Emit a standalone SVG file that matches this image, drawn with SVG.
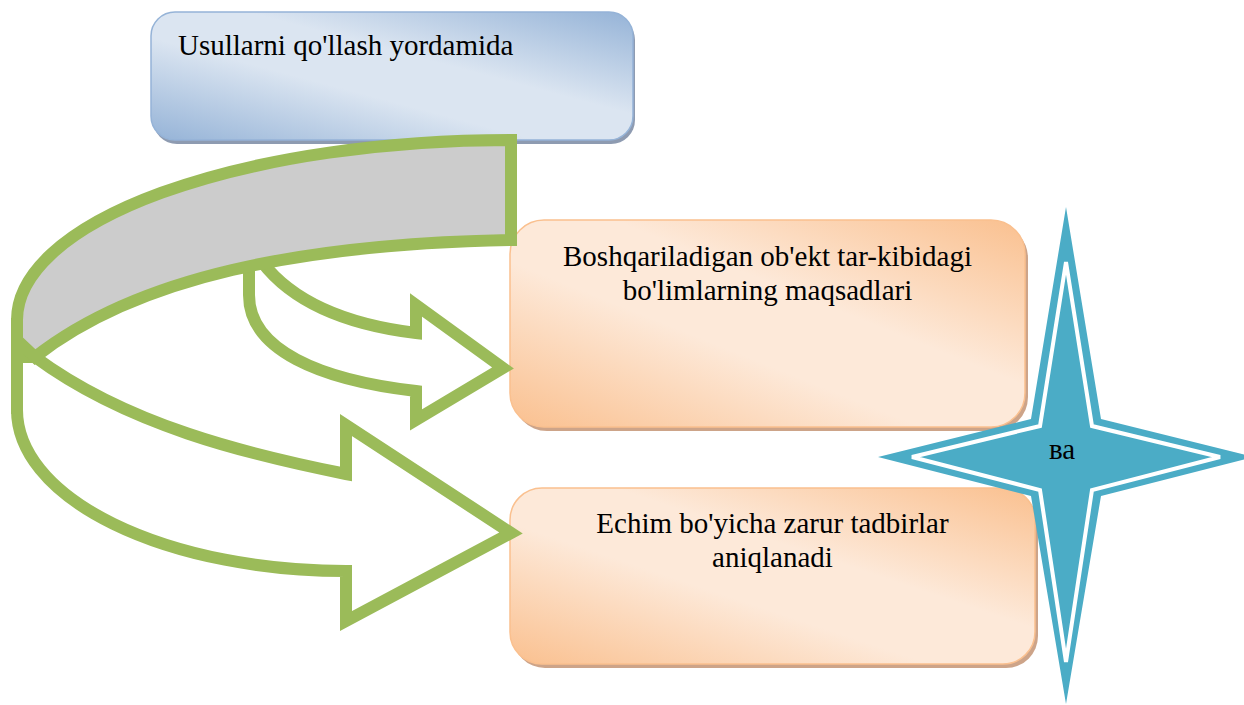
<svg xmlns="http://www.w3.org/2000/svg" width="1244" height="705" viewBox="0 0 1244 705">
<style>
.t{font-family:"Liberation Serif","Times New Roman",serif;font-size:29px;fill:#000}
.g{stroke:#9bbb59;stroke-width:12;stroke-linejoin:miter;stroke-miterlimit:6}
</style>
<defs>
<linearGradient id="blue" x1="1" y1="0" x2="0" y2="1">
<stop offset="0" stop-color="#95b3d7"/><stop offset="0.4" stop-color="#dbe5f1"/><stop offset="0.6" stop-color="#dbe5f1"/><stop offset="1" stop-color="#95b3d7"/>
</linearGradient>
<linearGradient id="orange" x1="1" y1="0" x2="0" y2="1">
<stop offset="0" stop-color="#fac08f"/><stop offset="0.4" stop-color="#fde9d9"/><stop offset="0.6" stop-color="#fde9d9"/><stop offset="1" stop-color="#fac08f"/>
</linearGradient>
</defs>
<rect width="1244" height="705" fill="#fff"/>
<g id="node-top">
<rect x="153" y="16" width="482" height="128" rx="24" fill="#8e9bb1"/>
<rect x="151" y="12" width="482" height="128" rx="24" fill="url(#blue)" stroke="#95b3d7" stroke-width="1.5"/>
<text class="t" x="178" y="55">Usullarni qo'llash yordamida</text>
</g>
<g id="node-goals">
<rect x="513" y="224" width="515" height="207" rx="34" fill="#cda489"/>
<rect x="510" y="220" width="515" height="207" rx="34" fill="url(#orange)" stroke="#fac08f" stroke-width="1.5"/>
<text class="t" x="767.5" y="266" text-anchor="middle">Boshqariladigan ob'ekt tar-kibidagi</text>
<text class="t" x="767.5" y="300" text-anchor="middle">bo'limlarning maqsadlari</text>
</g>
<g id="node-measures">
<rect x="513" y="492" width="525" height="176" rx="32" fill="#cda489"/>
<rect x="510" y="488" width="525" height="176" rx="32" fill="url(#orange)" stroke="#fac08f" stroke-width="1.5"/>
<text class="t" x="772.5" y="533" text-anchor="middle">Echim bo'yicha zarur tadbirlar</text>
<text class="t" x="772.5" y="567" text-anchor="middle">aniqlanadi</text>
</g>
<g id="connectors">
<path class="g" fill="#fff" d="M249,256 L249,295 C249,350 320,380 416,391 L416,420 L503,368 L416,305 L416,333 C350,325 295,305 262,262 Z"/>
<path class="g" fill="#fff" d="M17,357 L17,410 A329,161 0 0 0 346,571 L346,621 L511,533 L346,425 L346,474 C246,454 127,425 35,357 Z"/>
<path class="g" fill="#cccccc" d="M511,140 A494,180 0 0 0 17,320 L17,340 L35,357 C137,277 300,244 511,240 Z"/>
<path class="g" fill="none" d="M17,318 L17,414"/>
</g>
<g id="node-va">
<path d="M1066,207 L1101,419 L1254,457 L1101,496 L1066,704 L1031,496 L878,457 L1031,419 Z" fill="#4bacc6"/>
<path d="M1066,262 L1092,426 L1220,457 L1092,490 L1066,662 L1040,490 L912,457 L1040,426 Z" fill="#4bacc6" stroke="#fff" stroke-width="4"/>
<text class="t" x="1062" y="459" text-anchor="middle" font-size="28">ва</text>
</g>
</svg>
